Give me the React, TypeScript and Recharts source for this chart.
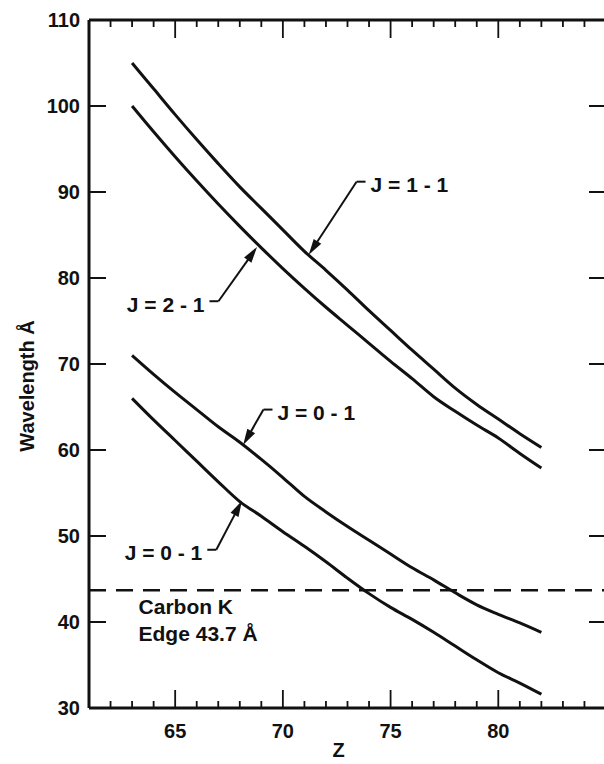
import { LineChart, Line, XAxis, YAxis, ReferenceLine, ReferenceDot, Label } from 'recharts';

// ----------------------------------------------------------------------

const zTicks = [62, 63, 64, 65, 66, 67, 68, 69, 70, 71, 72, 73, 74, 75, 76, 77, 78, 79, 80, 81, 82, 83, 84];
const zLabels = [65, 70, 75, 80];
const wTicks = [30, 40, 50, 60, 70, 80, 90, 100, 110];

const z = [63, 64, 65, 66, 67, 68, 69, 70, 71, 72, 73, 74, 75, 76, 77, 78, 79, 80, 81, 82];
const j11 = [105.0, 102.0, 99.0, 96.1, 93.3, 90.6, 88.1, 85.6, 83.1, 80.9, 78.6, 76.2, 73.9, 71.6, 69.4, 67.2, 65.3, 63.6, 61.9, 60.3];
const j21 = [100.0, 97.0, 94.1, 91.3, 88.6, 86.0, 83.5, 81.1, 78.8, 76.6, 74.5, 72.4, 70.3, 68.3, 66.2, 64.5, 62.9, 61.4, 59.6, 57.9];
const j01a = [71.0, 68.8, 66.7, 64.7, 62.7, 60.9, 58.9, 56.8, 54.6, 52.8, 51.1, 49.5, 47.9, 46.3, 44.9, 43.4, 42.0, 40.9, 39.9, 38.8];
const j01b = [66.0, 63.5, 61.1, 58.7, 56.3, 54.0, 52.3, 50.5, 48.8, 47.0, 45.1, 43.3, 41.7, 40.3, 38.8, 37.2, 35.6, 34.1, 32.9, 31.6];

const carbonEdge = 43.7;
const carbonNote = { z: 63.3, w: 41.8 };

// callouts: elbow of the leader and the point the arrow touches, in data units
const callouts = [
  { text: 'J = 1 - 1', side: 1, elbow: { z: 73.42, w: 91.2 }, tip: { z: 71.2, w: 82.7 } },
  { text: 'J = 2 - 1', side: -1, elbow: { z: 67.01, w: 77.3 }, tip: { z: 68.8, w: 83.6 } },
  { text: 'J = 0 - 1', side: 1, elbow: { z: 69.1, w: 64.7 }, tip: { z: 68.16, w: 60.6 } },
  { text: 'J = 0 - 1', side: -1, elbow: { z: 66.91, w: 48.4 }, tip: { z: 68.1, w: 54.1 } },
];

// ----------------------------------------------------------------------

const INK = '#111';
const FONT = '"Liberation Sans", Arial, Helvetica, sans-serif';
const Z_DOMAIN = [61, 85];
const W_DOMAIN = [30, 110];

// two interior reference points; the frame is laid out from where the scales put them
const REF_A = { x: 62, y: 40 };
const REF_B = { x: 84, y: 100 };

const toRows = (ys: number[]) => z.map((v, i) => ({ z: v, w: ys[i] }));

const BottomLabel = (props: any) => {
  const { x, y, payload } = props;
  const v = payload.value;
  if (!zLabels.includes(v)) return <g />;
  return (
    <text x={x} y={y + 23} textAnchor="middle" dominantBaseline="central" fontFamily={FONT} fontWeight="bold" fontSize={20} fill={INK}>
      {v}
    </text>
  );
};

const LeftLabel = (props: any) => {
  const { x, y, payload } = props;
  return (
    <text x={x - 9} y={y} textAnchor="end" dominantBaseline="central" fontFamily={FONT} fontWeight="bold" fontSize={20} fill={INK}>
      {payload.value}
    </text>
  );
};

// top/right border plus inward ticks on all four sides
const FrameShape = (p: any) => {
  const sx = (v: number) => p.x1 + ((v - REF_A.x) * (p.x2 - p.x1)) / (REF_B.x - REF_A.x);
  const sy = (v: number) => p.y1 + ((v - REF_A.y) * (p.y2 - p.y1)) / (REF_B.y - REF_A.y);
  const [z0, z1] = Z_DOMAIN;
  const [w0, w1] = W_DOMAIN;
  const left = sx(z0);
  const right = sx(z1);
  const bottom = sy(w0);
  const top = sy(w1);
  let d = '';
  zTicks.forEach((t) => {
    const len = t % 5 === 0 ? 18 : 7;
    const x = sx(t);
    d += `M${x} ${bottom}L${x} ${bottom - len}M${x} ${top}L${x} ${top + len}`;
  });
  wTicks
    .filter((v) => v !== w0 && v !== w1)
    .forEach((v) => {
      const y = sy(v);
      d += `M${left} ${y}L${left + 17} ${y}M${right} ${y}L${right - 17} ${y}`;
    });
  return (
    <g>
      <path d={d} stroke={INK} strokeWidth={1.8} fill="none" />
      <path d={`M${left} ${top}L${right} ${top}L${right} ${bottom}`} stroke={INK} strokeWidth={3} fill="none" />
    </g>
  );
};

const makeCallout = (c: any) => (p: any) => {
  const { x1, y1, x2, y2 } = p;
  const side = c.side;
  const dx = x2 - x1;
  const dy = y2 - y1;
  const len = Math.hypot(dx, dy) || 1;
  const ux = dx / len;
  const uy = dy / len;
  const L = 16;
  const H = 4.5;
  const bx = x2 - ux * L;
  const by = y2 - uy * L;
  return (
    <g>
      <line x1={x1} y1={y1} x2={x1 + side * 9} y2={y1} stroke={INK} strokeWidth={2} />
      <line x1={x1} y1={y1} x2={bx + ux * 4} y2={by + uy * 4} stroke={INK} strokeWidth={2} />
      <polygon points={`${x2},${y2} ${bx - uy * H},${by + ux * H} ${bx + uy * H},${by - ux * H}`} fill={INK} />
      <text
        x={x1 + side * 14}
        y={y1 + 3}
        textAnchor={side > 0 ? 'start' : 'end'}
        dominantBaseline="central"
        fontFamily={FONT}
        fontWeight="bold"
        fontSize={21}
        fill={INK}
      >
        {c.text}
      </text>
    </g>
  );
};

const CarbonText = (p: any) => (
  <g>
    <text x={p.cx} y={p.cy} dominantBaseline="central" fontFamily={FONT} fontWeight="bold" fontSize={21} fill={INK}>
      Carbon K
    </text>
    <text x={p.cx} y={p.cy + 27} dominantBaseline="central" fontFamily={FONT} fontWeight="bold" fontSize={21} fill={INK}>
      Edge 43.7 Å
    </text>
  </g>
);

const YTitle = (p: any) => {
  const vb = p.viewBox;
  const cx = 27;
  const cy = vb.y + vb.height / 2 + 22;
  return (
    <text x={cx} y={cy} transform={`rotate(-90 ${cx} ${cy})`} textAnchor="middle" dominantBaseline="central" fontFamily={FONT} fontWeight="bold" fontSize={20} fill={INK}>
      Wavelength Å
    </text>
  );
};

const XTitle = (p: any) => {
  const vb = p.viewBox;
  return (
    <text x={vb.x + vb.width / 2 - 9} y={750} textAnchor="middle" dominantBaseline="central" fontFamily={FONT} fontWeight="bold" fontSize={20} fill={INK}>
      Z
    </text>
  );
};

// ----------------------------------------------------------------------

export default function App() {
  const axisLine = { stroke: INK, strokeWidth: 3 };

  return (
    <div style={{ position: 'absolute', left: 0, top: 0, width: 604, height: 764, overflow: 'hidden', background: '#fff' }}>
      <LineChart width={620} height={764} margin={{ top: 20, right: 14, bottom: 0, left: 0 }}>
        <XAxis
          dataKey="z"
          type="number"
          domain={Z_DOMAIN}
          ticks={zTicks}
          interval={0}
          allowDataOverflow
          height={56}
          tickSize={0}
          tickMargin={0}
          tickLine={false}
          axisLine={axisLine}
          tick={<BottomLabel />}
        >
          <Label content={<XTitle />} />
        </XAxis>
        <YAxis
          type="number"
          domain={W_DOMAIN}
          ticks={wTicks}
          interval={0}
          allowDataOverflow
          width={89}
          tickSize={0}
          tickMargin={0}
          tickLine={false}
          axisLine={axisLine}
          tick={<LeftLabel />}
        >
          <Label content={<YTitle />} />
        </YAxis>

        <ReferenceLine y={carbonEdge} stroke={INK} strokeWidth={2.5} strokeDasharray="17 10" />

        <Line data={toRows(j11)} dataKey="w" type="monotone" stroke={INK} strokeWidth={3} dot={false} isAnimationActive={false} />
        <Line data={toRows(j21)} dataKey="w" type="monotone" stroke={INK} strokeWidth={3} dot={false} isAnimationActive={false} />
        <Line data={toRows(j01a)} dataKey="w" type="monotone" stroke={INK} strokeWidth={3} dot={false} isAnimationActive={false} />
        <Line data={toRows(j01b)} dataKey="w" type="monotone" stroke={INK} strokeWidth={3} dot={false} isAnimationActive={false} />

        <ReferenceLine segment={[REF_A, REF_B]} ifOverflow="visible" shape={FrameShape} />

        {callouts.map((c, i) => (
          <ReferenceLine
            key={`c${i}`}
            segment={[
              { x: c.elbow.z, y: c.elbow.w },
              { x: c.tip.z, y: c.tip.w },
            ]}
            ifOverflow="visible"
            shape={makeCallout(c)}
          />
        ))}

        <ReferenceDot x={carbonNote.z} y={carbonNote.w} r={0} ifOverflow="visible" shape={<CarbonText />} />
      </LineChart>
    </div>
  );
}
